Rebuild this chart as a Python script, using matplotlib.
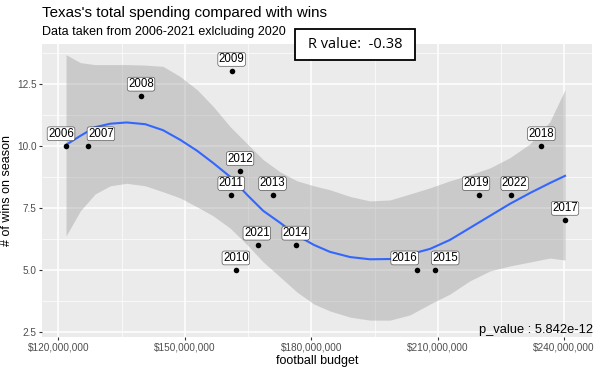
# ================================================================
# 0. Section: IMPORTS
# ================================================================
import numpy as np
import matplotlib
matplotlib.use("Agg")
from matplotlib import pyplot as plt
from matplotlib.patches import Rectangle
from matplotlib.ticker import FuncFormatter, MultipleLocator


# ================================================================
# 1. Section: INPUTS
# ================================================================
YEARS = ["2006", "2007", "2008", "2009", "2010", "2011", "2012", "2013",
         "2014", "2015", "2016", "2017", "2018", "2019", "2021", "2022"]
BUDGET = [121.8e6, 127.0e6, 139.6e6, 161.1e6, 162.1e6, 161.0e6, 163.1e6, 170.8e6,
          176.3e6, 209.4e6, 205.0e6, 240.2e6, 234.6e6, 219.8e6, 167.3e6, 227.3e6]
WINS = [10, 10, 12, 13, 5, 8, 9, 8, 6, 5, 5, 7, 10, 8, 6, 8]

# loess smooth (budget in $M)
SMOOTH_X = [121.8, 125.2, 128.7, 132.3, 136.2, 140.6, 144.8, 148.9, 152.9, 156.7,
            160.7, 164.8, 168.6, 172.6, 176.6, 180.6, 184.4, 189.2, 193.9, 198.7,
            203.4, 208.2, 212.9, 217.6, 222.4, 227.1, 231.9, 236.6, 240.2]
SMOOTH_Y = [10.04, 10.40, 10.75, 10.89, 10.94, 10.87, 10.63, 10.24, 9.80, 9.31,
            8.76, 8.02, 7.38, 6.90, 6.39, 6.01, 5.73, 5.52, 5.43, 5.44,
            5.63, 5.85, 6.21, 6.69, 7.18, 7.66, 8.10, 8.50, 8.79]
SMOOTH_HI = [13.67, 13.35, 13.27, 13.27, 13.27, 13.25, 13.20, 12.79, 12.26, 11.59,
             10.78, 10.08, 9.44, 8.95, 8.59, 8.39, 8.23, 7.96, 7.78, 7.82,
             8.06, 8.31, 8.59, 8.83, 9.11, 9.52, 10.08, 10.97, 12.26]
SMOOTH_LO = [6.37, 7.38, 8.06, 8.39, 8.49, 8.39, 8.15, 7.90, 7.54, 7.18,
             6.69, 6.01, 5.32, 4.72, 4.11, 3.63, 3.35, 3.10, 2.98, 2.98,
             3.19, 3.63, 4.03, 4.56, 4.96, 5.16, 5.32, 5.48, 5.40]

X_TICKS = [120e6, 150e6, 180e6, 210e6, 240e6]
Y_TICKS = [2.5, 5.0, 7.5, 10.0, 12.5]

R_VALUE = -0.38
P_VALUE = "5.842e-12"

# label shifts in pixels (repelled labels)
LABEL_SHIFT = {"2006": -5, "2007": 13, "2016": -12, "2015": 10,
               "2019": -3, "2022": 4, "2021": -1}

FONT = ["Liberation Sans", "DejaVu Sans"]
PANEL_BG = "#EBEBEB"
TICK_GREY = "#4D4D4D"


# ================================================================
# 2. Section: FUNCTIONS
# ================================================================
def dollars(v, pos=None) -> str:
    return f"${v:,.0f}"


# ================================================================
# 3. Section: MAIN
# ================================================================
if __name__ == "__main__":
    plt.rcParams["font.family"] = FONT

    fig = plt.figure(figsize=(6.0, 3.7), dpi=100)
    ax = fig.add_axes([42 / 600, 33 / 370, 550 / 600, 293 / 370])
    ax.set_facecolor(PANEL_BG)
    for s in ax.spines.values():
        s.set_visible(False)

    ax.set_xlim(116.1e6, 246.6e6)
    ax.set_ylim(2.3, 14.1)

    ax.xaxis.set_minor_locator(MultipleLocator(15e6))
    ax.set_xticks(X_TICKS)
    ax.set_yticks(Y_TICKS)
    ax.yaxis.set_minor_locator(MultipleLocator(1.25))
    ax.xaxis.set_major_formatter(FuncFormatter(dollars))
    ax.yaxis.set_major_formatter(FuncFormatter(lambda v, p: f"{v:.1f}"))

    ax.grid(which="major", color="white", lw=1.1)
    ax.grid(which="minor", color="white", lw=0.5)
    ax.set_axisbelow(True)
    ax.tick_params(which="major", length=2.5, width=0.8, color="#333333",
                   labelsize=7.2, labelcolor=TICK_GREY, pad=1.5)
    ax.tick_params(which="minor", length=0)

    sx = np.asarray(SMOOTH_X) * 1e6
    ax.fill_between(sx, SMOOTH_LO, SMOOTH_HI, color="#999999", alpha=0.4, lw=0, zorder=2)
    ax.plot(sx, SMOOTH_Y, color="#3366FF", lw=1.5, zorder=3, solid_joinstyle="round")

    ax.scatter(BUDGET, WINS, s=16, color="black", zorder=4, lw=0)

    for yr, bx, w in zip(YEARS, BUDGET, WINS):
        ax.annotate(yr, (bx, w), xytext=(LABEL_SHIFT.get(yr, 0), 12),
                    textcoords="offset pixels", ha="center", va="center",
                    fontsize=8.3, zorder=5,
                    bbox=dict(boxstyle="round,pad=0.08,rounding_size=0.2",
                              fc="white", ec="#333333", lw=0.4))

    ax.set_xlabel("football budget", fontsize=9, labelpad=2)
    ax.set_ylabel("# of wins on season", fontsize=9, labelpad=3)

    fig.text(42 / 600, 1 - 17 / 370, "Texas's total spending compared with wins",
             fontsize=10.9, va="baseline", ha="left")
    fig.text(42 / 600, 1 - 35.5 / 370, "Data taken from 2006-2021 exlcluding 2020",
             fontsize=9.0, va="baseline", ha="left")

    fig.patches.append(Rectangle((295 / 600, 1 - 60 / 370), 120 / 600, 31 / 370,
                                 transform=fig.transFigure, fc="white", ec="black",
                                 lw=1.3, zorder=10))
    fig.text(355 / 600, 1 - 45 / 370, f"R value:  {R_VALUE:.2f}", fontsize=10.5,
             ha="center", va="center", zorder=11, family=["Open Sans", "DejaVu Sans"])

    fig.text(593 / 600, 1 - 330 / 370, f"p_value : {P_VALUE}", fontsize=9.3,
             ha="right", va="center", zorder=11)

    fig.savefig("out.png", dpi=100)
